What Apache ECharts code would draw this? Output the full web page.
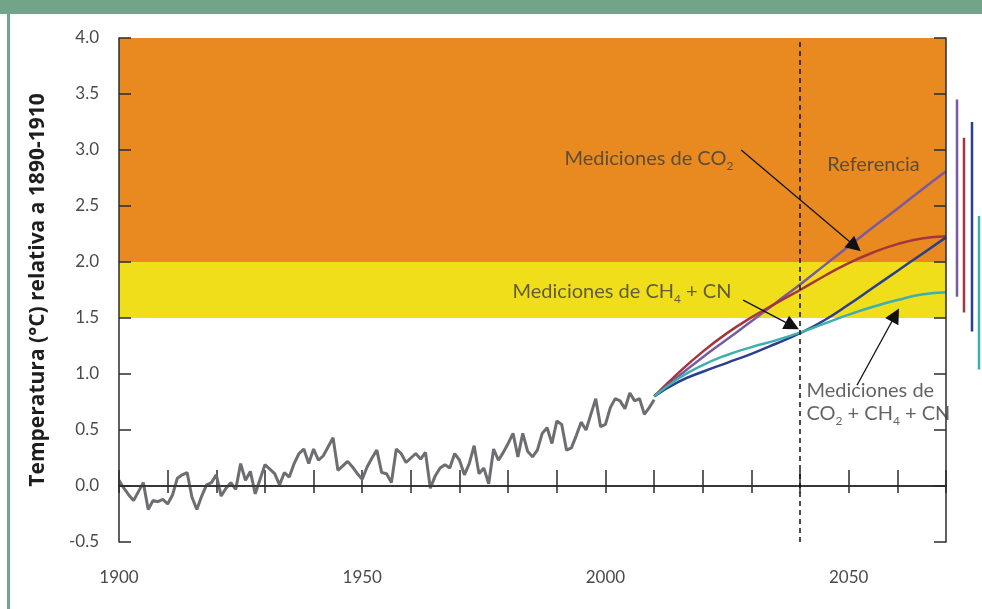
<!DOCTYPE html>
<html><head><meta charset="utf-8">
<script src="https://cdn.jsdelivr.net/npm/echarts@6/dist/echarts.min.js"></script>
<style>html,body{margin:0;padding:0;background:#fff;}#c{width:982px;height:609px;}</style>
</head><body><div id="c"></div>
<script>
// ---------- DATA ----------
const histStartYear = 1900;
const histValues = [
  0.05,-0.02,-0.08,-0.13,-0.05,0.03,-0.21,-0.13,-0.14,-0.12,
  -0.16,-0.08,0.07,0.10,0.12,-0.10,-0.21,-0.09,0.01,0.03,
  0.10,-0.09,-0.02,0.03,-0.03,0.20,0.05,0.13,-0.07,0.06,
  0.19,0.15,0.11,0.01,0.12,0.08,0.20,0.29,0.33,0.20,
  0.33,0.23,0.27,0.35,0.43,0.14,0.18,0.22,0.17,0.11,
  0.06,0.17,0.25,0.32,0.12,0.11,0.03,0.33,0.29,0.21,
  0.25,0.29,0.24,0.30,-0.02,0.09,0.16,0.19,0.16,0.29,
  0.23,0.10,0.20,0.36,0.11,0.16,0.02,0.33,0.23,0.30,
  0.38,0.47,0.26,0.47,0.31,0.26,0.32,0.47,0.52,0.38,
  0.58,0.55,0.32,0.34,0.45,0.57,0.50,0.64,0.78,0.53,
  0.55,0.70,0.78,0.76,0.69,0.83,0.76,0.78,0.64,0.70,
  0.77
];
const projYears   = [2010,2015,2020,2025,2030,2035,2040,2045,2050,2055,2060,2065,2070];
const referencia  = [0.80,0.98,1.15,1.31,1.47,1.635,1.80,1.97,2.14,2.31,2.475,2.645,2.81];
const medCO2      = [0.80,1.01,1.20,1.365,1.505,1.63,1.75,1.875,1.99,2.085,2.16,2.21,2.23];
const medCH4CN    = [0.80,0.93,1.02,1.10,1.18,1.27,1.365,1.48,1.62,1.77,1.92,2.07,2.22];
const medAll      = [0.80,0.96,1.08,1.17,1.24,1.30,1.37,1.45,1.53,1.60,1.66,1.71,1.73];
// likely ranges around 2070 [low, high]
const rangeReferencia = [1.69, 3.45];
const rangeCO2        = [1.55, 3.11];
const rangeCH4CN      = [1.38, 3.25];
const rangeAll        = [1.04, 2.41];
const yMin = -0.5, yMax = 4.0, yStep = 0.5;
const xMin = 1900, xMax = 2070;
const xLabelStep = 50;
const policyYear = 2040;
const bandRed = [2.0, 4.0];
const bandYellow = [1.5, 2.0];

// ---------- STYLE ----------
const FONT = 'Lato';
const C_REF = '#7a5a9e', C_CO2 = '#a3363c', C_CH4 = '#2a3f8e', C_ALL = '#3bb0ae', C_HIST = '#6e6e72';
const AX = {color:'#2b2b2b', width:1.5};
const TXT = '#3c3c3c';

const hist = histValues.map((v,i)=>[histStartYear+i, v]);
const proj = arr => projYears.map((y,i)=>[y, arr[i]]);
const rangeSeries = (r, slot, color) => ({
  type:'line', xAxisIndex:3, yAxisIndex:3, z:3, symbol:'none', silent:true,
  lineStyle:{color, width:2.5}, data:[[slot, r[0]],[slot, r[1]]]
});

const rich = {
  m:{fontFamily:FONT, fontSize:20, lineHeight:23, color:TXT},
  s:{fontFamily:FONT, fontSize:12, lineHeight:2, padding:[16,0,0,0], color:TXT}
};

const chart = echarts.init(document.getElementById('c'), null, {renderer:'canvas'});
chart.setOption({
  backgroundColor:'#ffffff',
  animation:false,
  graphic:[
    {type:'rect', left:0, top:0, shape:{width:982, height:14}, style:{fill:'#72a48a'}, z:10},
    {type:'rect', left:7, top:0, shape:{width:3, height:609}, style:{fill:'#72a48a'}, z:10}
  ],
  grid:[
    {left:119, right:36, top:38, bottom:67},
    {left:119, right:36, top:38, bottom:67},
    {left:946, right:0, top:38, bottom:67}
  ],
  xAxis:[
    {gridIndex:0, type:'value', position:'bottom', min:xMin, max:xMax, interval:xLabelStep, z:4,
     axisLine:{show:false, onZero:false}, axisTick:{show:false}, splitLine:{show:false},
     axisLabel:{show:true, margin:27, fontFamily:FONT, fontSize:17, color:'#4a4a4a', showMaxLabel:false,
       formatter:v=>String(v)}},
    {gridIndex:0, type:'value', position:'top', min:xMin, max:xMax, interval:10, z:4,
     axisLine:{show:true, lineStyle:AX}, axisTick:{show:true, inside:true, length:7, lineStyle:AX},
     axisLabel:{show:false}, splitLine:{show:false}},
    {gridIndex:1, type:'value', position:'bottom', min:xMin, max:xMax, interval:10, z:2,
     axisLine:{show:true, onZero:true, lineStyle:AX}, axisTick:{show:true, inside:true, length:16, lineStyle:AX},
     axisLabel:{show:false}, splitLine:{show:false}},
    {gridIndex:2, type:'value', min:0, max:36, show:false}
  ],
  yAxis:[
    {gridIndex:0, type:'value', position:'left', min:yMin, max:yMax, interval:yStep, z:4,
     name:'Temperatura (°C) relativa a 1890-1910', nameLocation:'middle', nameRotate:90, nameGap:70,
     nameTextStyle:{fontFamily:'Open Sans', fontWeight:'bold', fontSize:21, color:'#1e1e1e'},
     axisLine:{show:true, onZero:false, lineStyle:AX}, axisTick:{show:true, inside:true, length:12, lineStyle:AX},
     axisLabel:{margin:20, fontFamily:FONT, fontSize:17, color:'#4a4a4a', formatter:v=>v.toFixed(1)},
     splitLine:{show:false}},
    {gridIndex:0, type:'value', position:'right', min:yMin, max:yMax, interval:yStep, z:4,
     axisLine:{show:true, onZero:false, lineStyle:AX}, axisTick:{show:true, inside:true, length:12, lineStyle:AX},
     axisLabel:{show:false}, splitLine:{show:false}},
    {gridIndex:1, type:'value', min:yMin, max:yMax, interval:yStep, show:false},
    {gridIndex:2, type:'value', min:yMin, max:yMax, interval:yStep, show:false}
  ],
  series:[
    {type:'line', name:'bands', xAxisIndex:0, yAxisIndex:0, z:1, data:[], silent:true,
     markArea:{silent:true, data:[
       [{yAxis:bandRed[0], itemStyle:{color:'#e98a20'}},{yAxis:bandRed[1]}],
       [{yAxis:bandYellow[0], itemStyle:{color:'#f1de1b'}},{yAxis:bandYellow[1]}]
     ]}},
    {type:'line', name:'policy', xAxisIndex:0, yAxisIndex:0, z:2, data:[], silent:true,
     markLine:{silent:true, symbol:['none','none'], label:{show:false},
       lineStyle:{color:'#111', width:1.5, type:[5,4]},
       data:[[{coord:[policyYear, yMin]},{coord:[policyYear, yMax]}]]}},
    {type:'line', name:'Observado', xAxisIndex:0, yAxisIndex:0, z:3, symbol:'none',
     lineStyle:{color:C_HIST, width:3}, data:hist},
    {type:'line', name:'Referencia', z:3, symbol:'none', smooth:true, lineStyle:{color:C_REF, width:2.5}, data:proj(referencia)},
    {type:'line', name:'Mediciones de CO2', z:3, symbol:'none', smooth:true, lineStyle:{color:C_CO2, width:2.5}, data:proj(medCO2)},
    {type:'line', name:'Mediciones de CH4 + CN', z:3, symbol:'none', smooth:true, lineStyle:{color:C_CH4, width:2.5}, data:proj(medCH4CN)},
    {type:'line', name:'Mediciones de CO2 + CH4 + CN', z:3, symbol:'none', smooth:true, lineStyle:{color:C_ALL, width:2.5}, data:proj(medAll)},
    rangeSeries(rangeReferencia, 11, C_REF),
    rangeSeries(rangeCO2, 18, C_CO2),
    rangeSeries(rangeCH4CN, 26, C_CH4),
    rangeSeries(rangeAll, 33, C_ALL),
    {type:'scatter', name:'annot', z:5, symbolSize:0, silent:true,
     data:[
       {value:[2026.3, 2.925], label:{show:true, position:'left', distance:0, rich, formatter:'{m|Mediciones de CO}{s|2}'}},
       {value:[2055.1, 2.87], label:{show:true, position:'inside', rich, formatter:'{m|Referencia}'}},
       {value:[2025.9, 1.738], label:{show:true, position:'left', distance:0, rich, formatter:'{m|Mediciones de CH}{s|4}{m| + CN}'}},
       {value:[2041.3, 0.75], label:{show:true, position:'right', distance:0, rich, align:'left',
         formatter:'{m|Mediciones de}\n{m|CO}{s|2}{m| + CH}{s|4}{m| + CN}'}}
     ],
     markLine:{silent:true, symbol:['none','triangle'], symbolSize:15, label:{show:false},
       lineStyle:{color:'#111', width:1.3, type:'solid'},
       data:[
         [{coord:[2027.9, 3.0]},{coord:[2051.3, 2.14]}],
         [{coord:[2028.3, 1.66]},{coord:[2038.4, 1.43]}],
         [{coord:[2051.7, 0.90]},{coord:[2059.6, 1.527]}]
       ]}}
  ]
});
</script></body></html>
